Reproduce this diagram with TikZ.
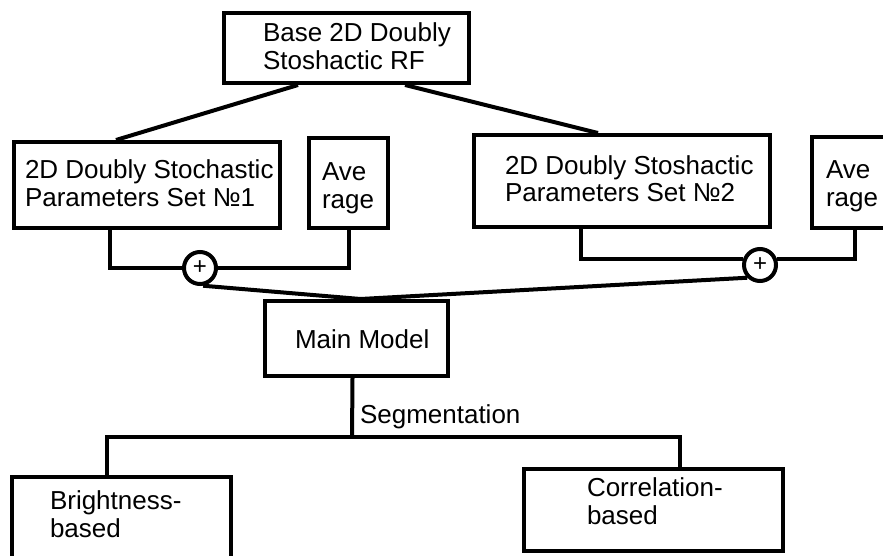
\documentclass[tikz,border=0pt]{standalone}
\usepackage{fontspec}
\setmainfont{Liberation Sans}
\begin{document}
\begin{tikzpicture}[x=1pt,y=-1pt,
  line width=4pt,
  box/.style={draw, rectangle, inner sep=0pt, line join=miter},
  sumnode/.style={draw, circle, minimum size=32pt, inner sep=0pt,
    font=\fontsize{24}{24}\selectfont},
  txt/.style={inner sep=0pt, align=left, anchor=base west,
    font=\fontsize{26}{28}\selectfont}
]
\useasboundingbox (0,0) rectangle (883,556);
\clip (0,0) rectangle (883,556);

% boxes
\node[box, minimum width=245pt, minimum height=70pt] (top) at (346.5,48) {};
\node[box, minimum width=266pt, minimum height=86pt] (p1) at (147,185) {};
\node[box, minimum width=79pt, minimum height=90pt] (a1) at (348.5,183) {};
\node[box, minimum width=296pt, minimum height=92pt] (p2) at (622,181) {};
\node[box, minimum width=79pt, minimum height=91pt] (a2) at (851.5,182.5) {};
\node[box, minimum width=183pt, minimum height=75pt] (mm) at (356.5,338.5) {};
\node[box, minimum width=219pt, minimum height=91pt] (br) at (121.5,522.5) {};
\node[box, minimum width=259pt, minimum height=82pt] (co) at (653.5,510) {};

% summation circles
\node[sumnode] (c1) at (200,268) {+};
\node[sumnode] (c2) at (760,265) {+};

% texts (anchored at the baseline of the last line)
\node[txt] (ttop) at (261,70) {Base 2D Doubly\\Stoshactic RF};
\node[txt] (tp1) at (23,207) {2D Doubly Stochastic\\Parameters Set №1};
\node[txt] (ta1) at (320,208) {Ave\\rage};
\node[txt] (tp2) at (503,202) {2D Doubly Stoshactic\\Parameters Set №2};
\node[txt] (ta2) at (824,207) {Ave\\rage};
\node[txt] (tmm) at (293,348) {Main Model};
\node[txt] (tbr) at (48,537) {Brightness-\\based};
\node[txt] (tco) at (585,524) {Correlation-\\based};
\node[txt] (tseg) at (358,423) {Segmentation};

% connectors from the base model
\draw ([xshift=76pt]top.south west) -- ([xshift=104pt]p1.north west);
\draw ([xshift=183pt]top.south west) -- ([xshift=126pt]p2.north west);

% parameter sets and averages into the summation nodes
\draw ([xshift=98pt]p1.south west) |- (c1.west);
\draw (c1.east) -| (a1.south);
\draw ([xshift=109pt]p2.south west) |- (c2.160);
\draw (c2.20) -| ([xshift=45pt]a2.south west);

% summation outputs into the main model
\draw (c1.-80) -- ([xshift=4pt]mm.north) -- (c2.-135);

% segmentation branches
\coordinate (seg) at (352,437);
\draw ([xshift=-4pt]mm.south) -- (seg);
\draw ([xshift=-14.5pt]br.north) |- (seg) -| ([xshift=26.5pt]co.north);
\end{tikzpicture}
\end{document}
